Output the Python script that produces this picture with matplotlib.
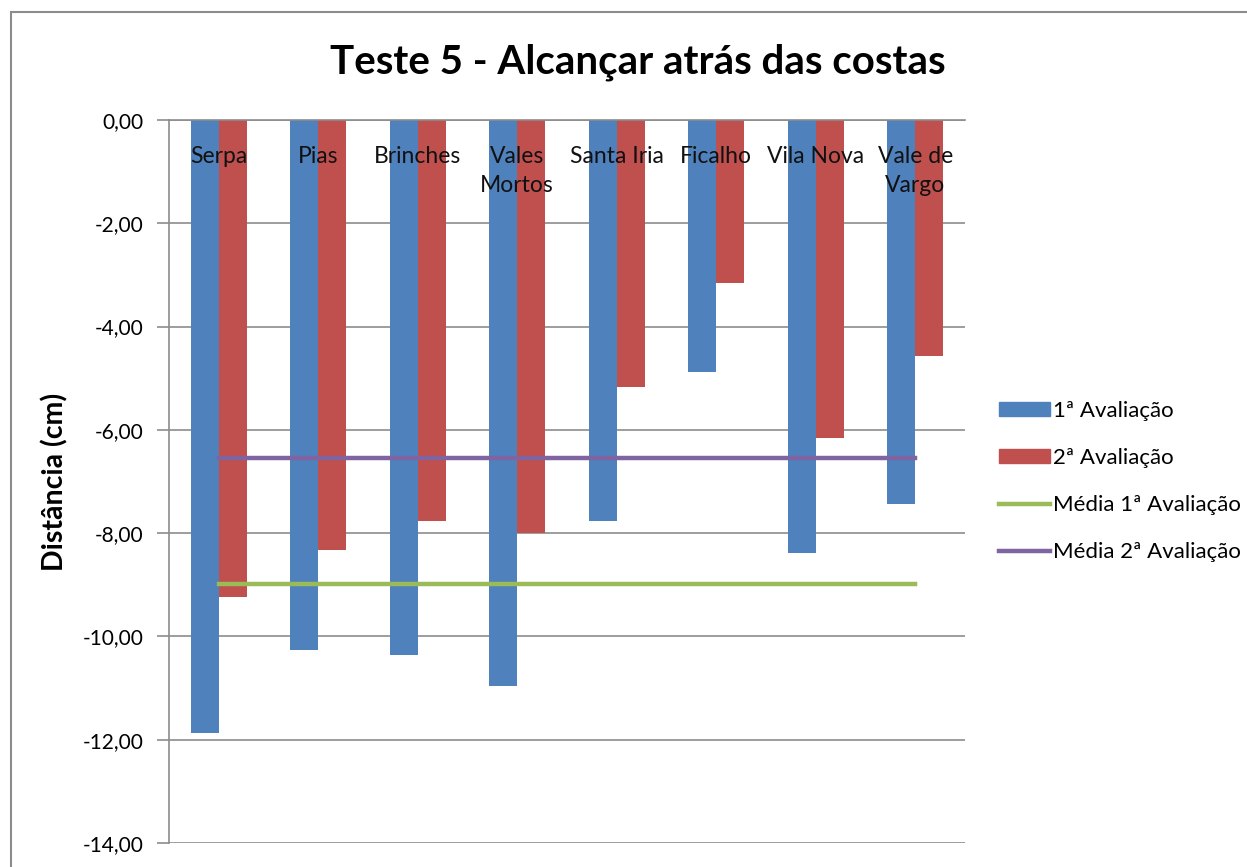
import matplotlib
matplotlib.use("Agg")
import matplotlib.pyplot as plt
import matplotlib.patches as mpatches
from matplotlib.lines import Line2D
import numpy as np

categories = ["Serpa", "Pias", "Brinches", "Vales\nMortos", "Santa Iria", "Ficalho", "Vila Nova", "Vale de\nVargo"]
aval1 = [-11.87, -10.26, -10.36, -10.96, -7.77, -4.88, -8.38, -7.44]
aval2 = [-9.24, -8.33, -7.77, -8.00, -5.17, -3.16, -6.16, -4.57]
media1 = [-8.99] * 8
media2 = [-6.55] * 8
yticks = [0, -2, -4, -6, -8, -10, -12, -14]
ytick_labels = ["0,00", "-2,00", "-4,00", "-6,00", "-8,00", "-10,00", "-12,00", "-14,00"]

BLUE = "#4F81BD"
RED = "#C0504D"
GREEN = "#9BBB59"
PURPLE = "#8064A2"
GRID = "#8C8C8C"

plt.rcParams['font.family'] = ['Lato', 'DejaVu Sans']

W, H = 1247, 867
fig = plt.figure(figsize=(W / 100, H / 100), dpi=100)

# outer chart border (cropped at right and bottom)
border = mpatches.Rectangle((11 / W, -0.05), 1.2, 1 - 12 / H + 0.05, transform=fig.transFigure,
                            fill=False, edgecolor="#8C8C8C", linewidth=1.5, zorder=0)
fig.patches.append(border)

left, right = 169 / W, 965 / W
top, bottom = 1 - 120 / H, 1 - 843 / H
ax = fig.add_axes([left, bottom, right - left, top - bottom])

x = np.arange(len(categories))
bw = 0.28
ax.bar(x - bw / 2, aval1, width=bw, color=BLUE, zorder=2, label="1ª Avaliação")
ax.bar(x + bw / 2, aval2, width=bw, color=RED, zorder=2, label="2ª Avaliação")
ax.plot(x, media1, color=GREEN, linewidth=3.2, zorder=3, label="Média 1ª Avaliação")
ax.plot(x, media2, color=PURPLE, linewidth=3.2, zorder=3, label="Média 2ª Avaliação")

ax.set_xlim(-0.5, len(categories) - 0.5)
ax.set_ylim(-14, 0)
ax.set_yticks(yticks)
ax.set_yticklabels(ytick_labels, fontsize=15)
ax.tick_params(axis='y', length=9, color=GRID, width=1.2, pad=9.5)
ax.set_xticks([])
ax.yaxis.grid(True, color=GRID, linewidth=1.2, zorder=0)
ax.set_axisbelow(True)
for s in ["right", "bottom"]:
    ax.spines[s].set_visible(False)
for s in ["left", "top"]:
    ax.spines[s].set_color(GRID)
    ax.spines[s].set_linewidth(1.2)
    ax.spines[s].set_zorder(4)

for xi, lab in zip(x, categories):
    ax.text(xi, 1 - (146 - 120) / 723, lab, transform=ax.get_xaxis_transform(),
            ha='center', va='top', fontsize=16.5, linespacing=1.5, zorder=5, color="#111111")

ax.set_ylabel("Distância (cm)", fontsize=20.5, fontweight='bold', labelpad=10)

fig.text(638 / W, 1 - 62 / H, "Teste 5 - Alcançar atrás das costas", ha='center', va='center',
         fontsize=29, fontweight='bold')

handles = [mpatches.Patch(color=BLUE), mpatches.Patch(color=RED),
           Line2D([], [], color=GREEN, linewidth=3.2), Line2D([], [], color=PURPLE, linewidth=3.2)]
labels = ["1ª Avaliação", "2ª Avaliação", "Média 1ª Avaliação", "Média 2ª Avaliação"]
fig.legend(handles, labels, loc='upper left', bbox_to_anchor=(999 / W, 1 - 401 / H),
           frameon=False, fontsize=16, handlelength=2.3, handleheight=0.6, handletextpad=0.15,
           labelspacing=1.22, borderaxespad=0, borderpad=0)

fig.savefig("out.png", dpi=100)
